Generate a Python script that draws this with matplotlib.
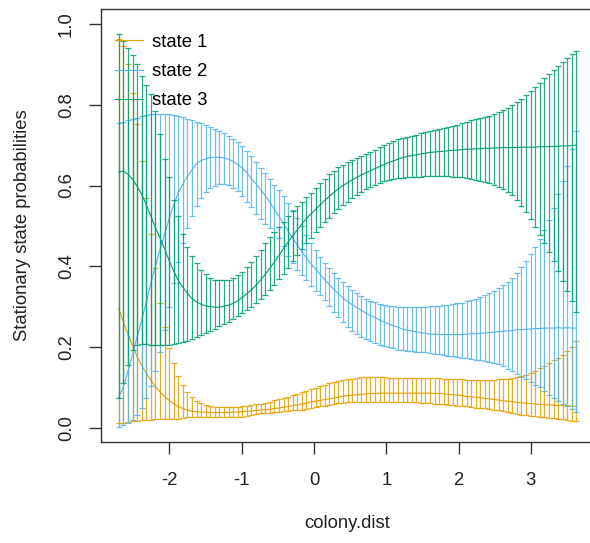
"""
Stationary state probabilities against colony distance, with confidence bars.
"""

import numpy as np
import matplotlib
matplotlib.use("Agg")
import matplotlib.pyplot as plt


# covariate grid (101 points, as in the original plot)
colony_dist = np.linspace(-2.70, 3.63, 101)

state_labels = ["state 1", "state 2", "state 3"]
state_colors = ["#E69F00", "#56B4E9", "#009E73"]

s1_mean = [
    0.295, 0.262, 0.232, 0.203, 0.177, 0.155, 0.136, 0.118, 0.103, 0.089,
    0.078, 0.068, 0.060, 0.053, 0.048, 0.044, 0.041, 0.040, 0.039, 0.039,
    0.038, 0.038, 0.038, 0.038, 0.038, 0.039, 0.039, 0.040, 0.041, 0.042,
    0.043, 0.044, 0.045, 0.046, 0.048, 0.049, 0.051, 0.053, 0.055, 0.057,
    0.059, 0.061, 0.064, 0.066, 0.068, 0.070, 0.072, 0.074, 0.076, 0.078,
    0.080, 0.081, 0.082, 0.083, 0.084, 0.085, 0.085, 0.086, 0.086, 0.086,
    0.086, 0.086, 0.086, 0.086, 0.086, 0.086, 0.086, 0.086, 0.086, 0.085,
    0.085, 0.084, 0.083, 0.082, 0.081, 0.080, 0.078, 0.077, 0.076, 0.075,
    0.073, 0.072, 0.070, 0.069, 0.067, 0.066, 0.065, 0.063, 0.062, 0.061,
    0.060, 0.059, 0.058, 0.057, 0.057, 0.056, 0.055, 0.055, 0.054, 0.054,
    0.053,
]
s1_lo = [
    0.012, 0.013, 0.014, 0.016, 0.018, 0.019, 0.020, 0.020, 0.021, 0.021,
    0.021, 0.021, 0.022, 0.023, 0.025, 0.026, 0.027, 0.027, 0.028, 0.028,
    0.028, 0.028, 0.028, 0.028, 0.028, 0.028, 0.028, 0.028, 0.030, 0.032,
    0.034, 0.036, 0.037, 0.038, 0.039, 0.040, 0.041, 0.042, 0.043, 0.044,
    0.045, 0.047, 0.049, 0.051, 0.053, 0.055, 0.057, 0.059, 0.061, 0.062,
    0.063, 0.064, 0.065, 0.065, 0.065, 0.065, 0.065, 0.065, 0.065, 0.065,
    0.065, 0.065, 0.064, 0.064, 0.063, 0.063, 0.062, 0.062, 0.061, 0.060,
    0.059, 0.058, 0.057, 0.056, 0.055, 0.054, 0.053, 0.052, 0.050, 0.049,
    0.048, 0.046, 0.045, 0.043, 0.041, 0.039, 0.037, 0.035, 0.033, 0.031,
    0.030, 0.029, 0.027, 0.026, 0.025, 0.024, 0.022, 0.021, 0.019, 0.018,
    0.016,
]
s1_hi = [
    0.962, 0.945, 0.900, 0.828, 0.752, 0.660, 0.570, 0.480, 0.395, 0.310,
    0.250, 0.198, 0.160, 0.128, 0.106, 0.088, 0.076, 0.067, 0.061, 0.057,
    0.054, 0.052, 0.051, 0.051, 0.051, 0.051, 0.052, 0.053, 0.055, 0.056,
    0.058, 0.060, 0.062, 0.065, 0.068, 0.071, 0.074, 0.077, 0.081, 0.084,
    0.088, 0.091, 0.095, 0.099, 0.103, 0.106, 0.110, 0.113, 0.116, 0.118,
    0.120, 0.122, 0.124, 0.125, 0.126, 0.126, 0.126, 0.125, 0.125, 0.124,
    0.124, 0.123, 0.123, 0.123, 0.123, 0.123, 0.123, 0.123, 0.123, 0.123,
    0.123, 0.122, 0.122, 0.121, 0.121, 0.120, 0.119, 0.119, 0.119, 0.119,
    0.119, 0.119, 0.119, 0.120, 0.121, 0.122, 0.124, 0.126, 0.128, 0.131,
    0.136, 0.141, 0.147, 0.153, 0.160, 0.167, 0.174, 0.181, 0.190, 0.201,
    0.214,
]

s2_mean = [
    0.075, 0.102, 0.140, 0.181, 0.225, 0.267, 0.311, 0.358, 0.401, 0.441,
    0.478, 0.518, 0.552, 0.582, 0.604, 0.623, 0.639, 0.655, 0.662, 0.666,
    0.669, 0.670, 0.670, 0.668, 0.665, 0.660, 0.652, 0.643, 0.632, 0.616,
    0.604, 0.590, 0.575, 0.559, 0.541, 0.524, 0.505, 0.487, 0.469, 0.453,
    0.436, 0.421, 0.406, 0.393, 0.380, 0.367, 0.355, 0.343, 0.332, 0.322,
    0.313, 0.305, 0.298, 0.291, 0.284, 0.278, 0.273, 0.267, 0.262, 0.257,
    0.253, 0.249, 0.245, 0.242, 0.240, 0.238, 0.236, 0.234, 0.232, 0.232,
    0.231, 0.231, 0.231, 0.231, 0.231, 0.231, 0.232, 0.233, 0.233, 0.234,
    0.235, 0.236, 0.237, 0.238, 0.239, 0.240, 0.241, 0.243, 0.243, 0.244,
    0.245, 0.246, 0.246, 0.247, 0.247, 0.247, 0.248, 0.247, 0.248, 0.247,
    0.247,
]
s2_lo = [
    0.003, 0.006, 0.012, 0.020, 0.031, 0.048, 0.075, 0.104, 0.140, 0.188,
    0.243, 0.300, 0.358, 0.410, 0.457, 0.495, 0.525, 0.550, 0.570, 0.584,
    0.594, 0.600, 0.603, 0.604, 0.601, 0.595, 0.586, 0.573, 0.560, 0.546,
    0.530, 0.517, 0.505, 0.495, 0.486, 0.470, 0.450, 0.426, 0.408, 0.392,
    0.378, 0.365, 0.352, 0.340, 0.328, 0.316, 0.302, 0.288, 0.274, 0.261,
    0.250, 0.240, 0.232, 0.226, 0.220, 0.215, 0.210, 0.206, 0.203, 0.200,
    0.197, 0.194, 0.193, 0.191, 0.190, 0.189, 0.188, 0.187, 0.185, 0.184,
    0.182, 0.180, 0.179, 0.177, 0.176, 0.174, 0.172, 0.170, 0.169, 0.167,
    0.165, 0.163, 0.160, 0.157, 0.152, 0.146, 0.140, 0.133, 0.127, 0.120,
    0.114, 0.107, 0.100, 0.091, 0.082, 0.073, 0.066, 0.060, 0.054, 0.047,
    0.040,
]
s2_hi = [
    0.755, 0.758, 0.761, 0.764, 0.768, 0.771, 0.774, 0.777, 0.778, 0.778,
    0.777, 0.776, 0.774, 0.772, 0.769, 0.765, 0.762, 0.758, 0.754, 0.750,
    0.746, 0.740, 0.735, 0.729, 0.723, 0.716, 0.708, 0.698, 0.686, 0.673,
    0.658, 0.644, 0.630, 0.615, 0.602, 0.588, 0.573, 0.557, 0.540, 0.520,
    0.499, 0.478, 0.458, 0.440, 0.424, 0.409, 0.395, 0.383, 0.372, 0.361,
    0.350, 0.341, 0.333, 0.326, 0.320, 0.315, 0.311, 0.307, 0.304, 0.302,
    0.301, 0.300, 0.300, 0.300, 0.300, 0.300, 0.300, 0.300, 0.301, 0.301,
    0.302, 0.303, 0.305, 0.306, 0.308, 0.310, 0.313, 0.316, 0.320, 0.324,
    0.329, 0.334, 0.340, 0.347, 0.354, 0.362, 0.372, 0.384, 0.398, 0.413,
    0.430, 0.448, 0.467, 0.490, 0.515, 0.545, 0.578, 0.612, 0.648, 0.690,
    0.735,
]

s3_mean = [
    0.633, 0.636, 0.628, 0.616, 0.598, 0.578, 0.553, 0.524, 0.496, 0.470,
    0.444, 0.414, 0.388, 0.365, 0.348, 0.333, 0.320, 0.312, 0.306, 0.302,
    0.300, 0.299, 0.299, 0.301, 0.304, 0.308, 0.315, 0.323, 0.332, 0.342,
    0.353, 0.366, 0.380, 0.395, 0.411, 0.427, 0.444, 0.460, 0.476, 0.490,
    0.505, 0.518, 0.530, 0.541, 0.552, 0.563, 0.573, 0.583, 0.592, 0.600,
    0.607, 0.614, 0.620, 0.626, 0.632, 0.637, 0.642, 0.647, 0.652, 0.657,
    0.661, 0.665, 0.669, 0.672, 0.674, 0.676, 0.678, 0.680, 0.682, 0.683,
    0.684, 0.685, 0.686, 0.687, 0.688, 0.689, 0.690, 0.690, 0.691, 0.691,
    0.692, 0.692, 0.693, 0.693, 0.694, 0.694, 0.694, 0.694, 0.695, 0.695,
    0.695, 0.695, 0.696, 0.696, 0.696, 0.697, 0.697, 0.698, 0.698, 0.699,
    0.700,
]
s3_lo = [
    0.074, 0.112, 0.156, 0.193, 0.205, 0.207, 0.207, 0.206, 0.205, 0.205,
    0.205, 0.206, 0.207, 0.209, 0.212, 0.216, 0.220, 0.224, 0.229, 0.234,
    0.239, 0.245, 0.251, 0.257, 0.263, 0.270, 0.277, 0.284, 0.291, 0.299,
    0.308, 0.318, 0.329, 0.341, 0.354, 0.368, 0.382, 0.397, 0.413, 0.428,
    0.443, 0.457, 0.471, 0.484, 0.497, 0.509, 0.520, 0.531, 0.541, 0.551,
    0.560, 0.569, 0.577, 0.584, 0.591, 0.597, 0.602, 0.606, 0.610, 0.613,
    0.616, 0.618, 0.619, 0.620, 0.621, 0.622, 0.622, 0.623, 0.623, 0.624,
    0.624, 0.624, 0.623, 0.622, 0.621, 0.620, 0.619, 0.617, 0.614, 0.611,
    0.608, 0.605, 0.601, 0.597, 0.592, 0.585, 0.576, 0.563, 0.550, 0.535,
    0.516, 0.498, 0.478, 0.457, 0.436, 0.412, 0.388, 0.363, 0.339, 0.314,
    0.288,
]
s3_hi = [
    0.975, 0.958, 0.940, 0.924, 0.900, 0.870, 0.850, 0.826, 0.785, 0.728,
    0.665, 0.620, 0.565, 0.525, 0.480, 0.448, 0.425, 0.407, 0.392, 0.380,
    0.372, 0.367, 0.365, 0.365, 0.367, 0.372, 0.379, 0.387, 0.398, 0.410,
    0.425, 0.441, 0.457, 0.472, 0.486, 0.498, 0.510, 0.524, 0.538, 0.549,
    0.560, 0.572, 0.582, 0.593, 0.606, 0.617, 0.628, 0.637, 0.645, 0.652,
    0.658, 0.663, 0.668, 0.673, 0.678, 0.683, 0.689, 0.695, 0.700, 0.705,
    0.710, 0.715, 0.718, 0.720, 0.723, 0.726, 0.729, 0.732, 0.734, 0.737,
    0.740, 0.742, 0.745, 0.748, 0.751, 0.755, 0.758, 0.761, 0.764, 0.767,
    0.770, 0.773, 0.776, 0.781, 0.787, 0.793, 0.800, 0.807, 0.815, 0.824,
    0.833, 0.843, 0.854, 0.865, 0.876, 0.887, 0.897, 0.906, 0.915, 0.925,
    0.933,
]

y_ticks = [0.0, 0.2, 0.4, 0.6, 0.8, 1.0]
x_ticks = [-2, -1, 0, 1, 2, 3]


def plot_stationary(save=True):
    """Plot stationary state probabilities with their confidence bars."""
    plt.rcParams["font.family"] = ["Liberation Sans", "DejaVu Sans"]
    plt.rcParams["font.size"] = 13.3

    fig = plt.figure(figsize=(5.90, 5.43), dpi=100)
    ax = fig.add_axes([100.5 / 590, 101 / 543, 494.2 / 590, 433 / 543])

    states = [
        (s1_mean, s1_lo, s1_hi),
        (s2_mean, s2_lo, s2_hi),
        (s3_mean, s3_lo, s3_hi),
    ]
    for (mean, lo, hi), label, color in zip(states, state_labels, state_colors):
        mean = np.array(mean)
        err = [mean - np.array(lo), np.array(hi) - mean]
        ax.plot(colony_dist, mean, color=color, lw=0.8, label=label)
        ax.errorbar(colony_dist, mean, yerr=err, fmt="none", ecolor=color,
                    elinewidth=0.9, capsize=2.4, capthick=0.9, alpha=0.85)

    ax.set_xlim(-2.953, 3.883)
    ax.set_ylim(-0.035, 1.037)
    ax.set_xticks(x_ticks)
    ax.set_xticklabels([f"{t}" for t in x_ticks])
    ax.set_yticks(y_ticks)
    ax.set_yticklabels([f"{t:.1f}" for t in y_ticks])

    for spine in ax.spines.values():
        spine.set_color("#333333")
        spine.set_linewidth(1.0)
    ax.tick_params(axis="both", direction="out", length=8.5, width=1.0,
                   color="#333333", labelcolor="#222222")
    ax.tick_params(axis="x", pad=13)
    ax.tick_params(axis="y", pad=10, labelrotation=90)
    for lab in ax.get_yticklabels():
        lab.set_verticalalignment("center")

    ax.set_xlabel("colony.dist", color="#222222", labelpad=19)
    ax.set_ylabel("Stationary state probabilities", color="#222222",
                  labelpad=19)

    ax.legend(loc="upper left", bbox_to_anchor=(0.029, 0.943), frameon=False,
              borderpad=0, borderaxespad=0, handlelength=1.5,
              handletextpad=0.5, labelspacing=0.67)

    if save:
        fig.savefig("out.png", dpi=100)


if __name__ == "__main__":
    plot_stationary()
